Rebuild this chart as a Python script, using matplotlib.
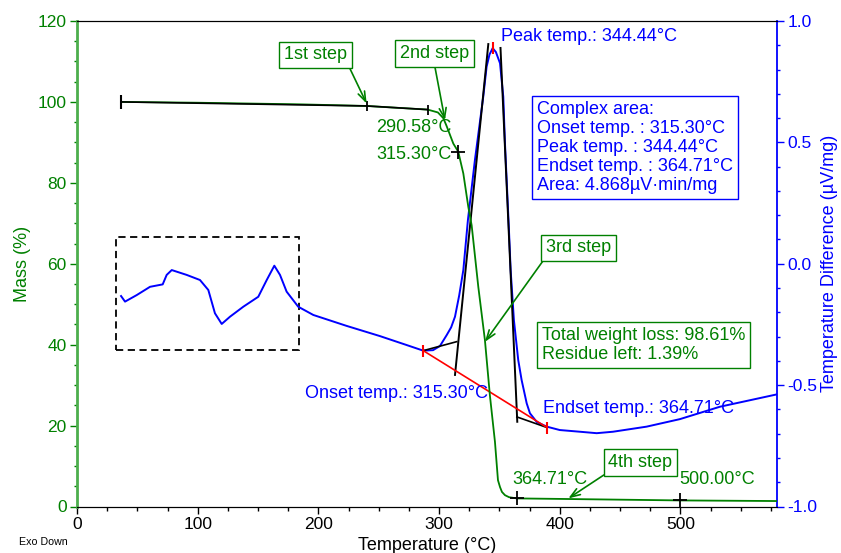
import matplotlib
matplotlib.use('Agg')
import matplotlib.pyplot as plt
from matplotlib.ticker import MultipleLocator, FuncFormatter
from matplotlib.patches import Rectangle

plt.rcParams['font.family'] = ['Liberation Sans', 'DejaVu Sans']

# ---------------- data ----------------
# TG curve (mass %, left axis)
tg_temp = [36.5, 100.0, 185.0, 240.0, 290.6, 299.0, 303.5, 306.3, 311.8, 315.9, 320.1,
           324.2, 327.0, 332.5, 338.0, 342.1, 346.3, 348.8, 350.5, 352.1, 354.6, 358.0,
           364.5, 407.1, 500.0, 580.0]
tg_mass = [100.0, 99.8, 99.4, 99.0, 98.1, 97.4, 96.0, 94.0, 89.7, 87.7, 82.3,
           74.1, 69.5, 54.3, 41.1, 27.5, 16.0, 6.5, 4.8, 3.6, 2.8, 2.3,
           2.0, 1.85, 1.5, 1.35]

# DTA curve (uV/mg, right axis)
dta_temp = [36.5, 39.8, 49.5, 60.5, 71.0, 74.3, 78.5, 90.9, 101.9, 108.8, 114.3, 119.9,
            126.8, 137.8, 150.2, 157.2, 163.5, 168.2, 173.7, 183.3, 195.8, 223.4, 251.0,
            273.2, 286.9, 295.0, 300.7, 306.3, 310.0, 313.2, 316.7, 320.1, 323.9, 329.7,
            336.6, 339.4, 341.8, 344.4, 347.1, 350.5, 353.2, 354.6, 356.0, 357.9, 359.3,
            362.0, 365.6, 368.4, 372.6, 375.3, 381.0, 389.2, 400.0, 416.7, 430.6, 444.1,
            472.0, 499.6, 532.7, 555.0, 580.0]
dta_val = [-0.133, -0.156, -0.129, -0.095, -0.085, -0.046, -0.026, -0.046, -0.067, -0.108,
           -0.204, -0.248, -0.218, -0.177, -0.136, -0.067, -0.008, -0.046, -0.115, -0.177,
           -0.211, -0.256, -0.298, -0.335, -0.358, -0.356, -0.339, -0.294, -0.262, -0.218,
           -0.130, -0.026, 0.180, 0.427, 0.688, 0.812, 0.862, 0.888, 0.872, 0.826, 0.688,
           0.496, 0.345, 0.139, -0.026, -0.232, -0.397, -0.479, -0.575, -0.616, -0.652,
           -0.671, -0.685, -0.692, -0.698, -0.692, -0.671, -0.640, -0.589, -0.565, -0.538]

# step baseline on TG
step_temp = [36.5, 240.0, 290.58]
step_mass = [100.0, 99.0, 98.1]
plus_temp = [315.30, 364.71, 500.00]
plus_mass = [87.7, 2.0, 1.5]

# DTA construction lines
onset = (286.9, -0.358)
endset = (389.6, -0.675)
peak = (344.44, 0.888)
base_left = ([286.9, 314.6], [-0.358, -0.321])
tan_left = ([313.2, 340.8], [-0.458, 0.905])
tan_right = ([350.9, 364.8], [0.889, -0.651])
base_right = ([364.5, 389.6], [-0.631, -0.675])

GREEN = '#008000'
BLUE = '#0000ff'
RED = '#ff0000'
SPINE_GREEN = '#4cae4c'
FS = 13

fig = plt.figure(figsize=(8.41, 5.53), dpi=100)
ax = fig.add_axes([77 / 841, 1 - 506.5 / 553, 700 / 841, 485.5 / 553])
ax2 = ax.twinx()

ax.set_xlim(0, 580)
ax.set_ylim(0, 120)
ax2.set_ylim(-1, 1)

# curves
ax2.plot(dta_temp, dta_val, color=BLUE, lw=1.4, zorder=2, solid_joinstyle='round')
ax2.plot(*base_left, color='black', lw=1.2)
ax2.plot(*tan_left, color='black', lw=1.4)
ax2.plot(*tan_right, color='black', lw=1.4)
ax2.plot(*base_right, color='black', lw=1.2)
ax2.plot([onset[0], endset[0]], [onset[1], endset[1]], color=RED, lw=1.2)
ax2.plot([onset[0], endset[0], peak[0]], [onset[1], endset[1], peak[1]],
         ls='none', marker='|', ms=8, mew=1.5, color=RED)

ax2.plot(tg_temp, tg_mass, color=GREEN, lw=1.3, transform=ax.transData, zorder=3,
         solid_joinstyle='round')
ax2.plot(step_temp, step_mass, color='black', lw=1.2, transform=ax.transData, zorder=4)
ax2.plot(step_temp[:1], step_mass[:1], ls='none', marker='|', ms=10, mew=1.5,
         color='black', transform=ax.transData, zorder=4)
ax2.plot(step_temp[1:], step_mass[1:], ls='none', marker='|', ms=7, mew=1.3,
         color='black', transform=ax.transData, zorder=4)
ax2.plot(plus_temp, plus_mass, ls='none', marker='+', ms=10, mew=1.3,
         color='black', transform=ax.transData, zorder=4)

# dashed box
ax2.add_patch(Rectangle((32.1, 38.8), 152.2, 27.9, transform=ax.transData, fill=False,
                        ec='black', lw=1.3, ls=(0, (4, 2.5))))

# ---------------- texts ----------------
T = ax.transData
def label(x, y, s, color, ha='left', box=False, ls=1.15):
    kw = {}
    if box:
        kw['bbox'] = dict(boxstyle='square,pad=0.27', fc='white', ec=color, lw=1.0)
    ax2.text(x, y, s, color=color, fontsize=FS, ha=ha, va='center', transform=T,
             linespacing=ls, zorder=6, **kw)

def arrow(start, tip):
    ax2.annotate('', xy=tip, xytext=start, xycoords=T, textcoords=T,
                 arrowprops=dict(arrowstyle='->,head_length=0.7,head_width=0.25',
                                 color=GREEN, lw=1.2, shrinkA=0, shrinkB=0), zorder=5)

label(197.9, 111.6, '1st step', GREEN, ha='center', box=True)
arrow((226.2, 108.2), (240.0, 99.6))
label(296.3, 112.0, '2nd step', GREEN, ha='center', box=True)
arrow((296.6, 108.6), (304.9, 95.5))
label(248.2, 93.8, '290.58°C', GREEN)
label(248.2, 86.9, '315.30°C', GREEN)
label(351.3, 116.1, 'Peak temp.: 344.44°C', BLUE)
label(381.4, 88.7, 'Complex area:\nOnset temp. : 315.30°C\nPeak temp. : 344.44°C\n'
      'Endset temp. : 364.71°C\nArea: 4.868µV·min/mg', BLUE, box=True)
label(415.8, 63.9, '3rd step', GREEN, ha='center', box=True)
arrow((386.1, 60.7), (338.0, 40.7))
label(385.0, 40.0, 'Total weight loss: 98.61%\nResidue left: 1.39%', GREEN, box=True)
label(340.5, 28.0, 'Onset temp.: 315.30°C', BLUE, ha='right')
label(386.1, 24.3, 'Endset temp.: 364.71°C', BLUE)
label(466.9, 10.95, '4th step', GREEN, ha='center', box=True)
arrow((436.6, 7.8), (407.1, 2.0))
label(391.6, 6.55, '364.71°C', GREEN, ha='center')
label(530.2, 6.55, '500.00°C', GREEN, ha='center')

fig.text(19.3 / 841, 1 - 541.7 / 553, 'Exo Down', fontsize=7.7, va='center')

# ---------------- axes styling ----------------
ax.xaxis.set_major_locator(MultipleLocator(100))
ax.xaxis.set_minor_locator(MultipleLocator(25))
ax.yaxis.set_major_locator(MultipleLocator(20))
ax.yaxis.set_minor_locator(MultipleLocator(5))
ax2.yaxis.set_major_locator(MultipleLocator(0.5))
ax2.yaxis.set_minor_locator(MultipleLocator(0.1))
ax2.yaxis.set_major_formatter(FuncFormatter(lambda v, p: '%.1f' % (0.0 if abs(v) < 1e-9 else v)))

ax.tick_params(axis='x', which='major', direction='out', length=5, width=1, labelsize=12.5, pad=2.5)
ax.tick_params(axis='x', which='minor', direction='out', length=3, width=1)
ax.tick_params(axis='y', which='major', direction='out', length=5, width=1, labelsize=12.5,
               pad=2.5, color=GREEN, labelcolor=GREEN)
ax.tick_params(axis='y', which='minor', direction='out', length=2.5, width=1, color=GREEN)
ax2.tick_params(axis='y', which='major', direction='out', length=5, width=1, labelsize=12.5,
                pad=2.5, color=BLUE, labelcolor=BLUE)
ax2.tick_params(axis='y', which='minor', direction='out', length=2.5, width=1, color=BLUE)

for a in (ax, ax2):
    a.spines['top'].set_color('black')
    a.spines['bottom'].set_color('black')
ax.spines['left'].set_color(SPINE_GREEN)
ax.spines['left'].set_linewidth(2.0)
ax.spines['right'].set_visible(False)
ax2.spines['left'].set_visible(False)
ax2.spines['right'].set_color(BLUE)
ax2.spines['right'].set_linewidth(1.3)

ax.set_xlabel('Temperature (°C)', fontsize=FS)
ax.xaxis.set_label_coords(0.5, -0.063)
ax.set_ylabel('Mass (%)', fontsize=FS, color=GREEN)
ax.yaxis.set_label_coords(-0.066, 0.5)
ax2.set_ylabel('Temperature Difference (µV/mg)', fontsize=FS, color=BLUE)
ax2.yaxis.set_label_coords(1.063, 0.5)

fig.savefig('out.png', dpi=100)
